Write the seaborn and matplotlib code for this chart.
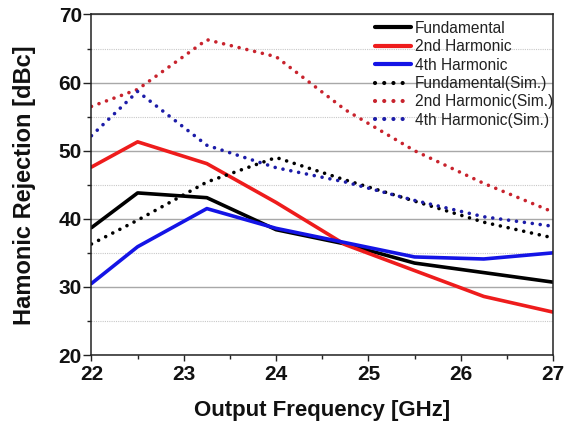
import numpy as np
import pandas as pd
import matplotlib
matplotlib.use("Agg")
import matplotlib.pyplot as plt
import seaborn as sns
from matplotlib.ticker import MultipleLocator

# Output frequency points [GHz]
freq = [22.0, 22.5, 23.25, 24.0, 24.75, 25.5, 26.25, 27.0]

# Measured harmonic rejection [dBc]
fund_meas = [38.7, 43.8, 43.1, 38.4, 36.3, 33.5, 32.1, 30.7]
h2_meas = [47.6, 51.3, 48.1, 42.4, 36.2, 32.4, 28.6, 26.3]
h4_meas = [30.5, 35.9, 41.5, 38.6, 36.5, 34.4, 34.1, 35.0]

# Simulated harmonic rejection [dBc]
fund_sim = [36.3, 39.8, 45.4, 49.0, 45.7, 42.6, 39.5, 37.2]
h2_sim = [56.5, 59.0, 66.3, 63.8, 56.0, 50.0, 45.2, 41.0]
h4_sim = [52.2, 58.7, 50.8, 47.5, 45.4, 42.7, 40.3, 38.9]

labels = ["Fundamental", "2nd Harmonic", "4th Harmonic",
          "Fundamental(Sim.)", "2nd Harmonic(Sim.)", "4th Harmonic(Sim.)"]
series = [fund_meas, h2_meas, h4_meas, fund_sim, h2_sim, h4_sim]
colors = ["#000000", "#ee1c1c", "#1414e6", "#000000", "#c8232d", "#1c1ca8"]
dotted = (0, (0.01, 2.2))
styles = ["-", "-", "-", dotted, dotted, dotted]
caps = ["butt", "butt", "butt", "round", "round", "round"]

sns.set_theme(style="white")
plt.rcParams["font.family"] = ["Liberation Sans", "DejaVu Sans"]

fig = plt.figure(figsize=(5.64, 4.30), dpi=100)
ax = fig.add_axes([0.1622, 0.1744, 0.8183, 0.7919])

for lab, vals, col, ls, cap in zip(labels, series, colors, styles, caps):
    df = pd.DataFrame({"freq": freq, "rej": vals})
    sns.lineplot(data=df, x="freq", y="rej", ax=ax, color=col, linewidth=2.6,
                 label=lab, linestyle=ls, dash_capstyle=cap)

ax.set_xlim(22, 27)
ax.set_ylim(20, 70)
ax.xaxis.set_major_locator(MultipleLocator(1))
ax.xaxis.set_minor_locator(MultipleLocator(0.5))
ax.yaxis.set_major_locator(MultipleLocator(10))
ax.yaxis.set_minor_locator(MultipleLocator(5))

ax.grid(False)
ax.yaxis.grid(True, which="major", color="#a8a8a8", linewidth=1.0, linestyle="-")
ax.yaxis.grid(True, which="minor", color="#c8c8c8", linewidth=0.8, linestyle=(0, (1, 1)))
ax.set_axisbelow(True)

for sp in ax.spines.values():
    sp.set_color("#222222")
    sp.set_linewidth(1.1)
    sp.set_visible(True)

ax.tick_params(axis="both", which="major", direction="out", width=1.0,
               color="#222222", labelsize=15, bottom=True, left=True)
ax.tick_params(axis="x", which="major", length=4, pad=3)
ax.tick_params(axis="y", which="major", length=5.5, pad=1.5)
ax.tick_params(axis="both", which="minor", direction="out", length=3, width=1.0,
               color="#222222", bottom=True, left=True)
for t in ax.get_xticklabels() + ax.get_yticklabels():
    t.set_fontweight("bold")
    t.set_color("#111111")

ax.set_xlabel("Output Frequency [GHz]", fontsize=16, fontweight="bold",
              color="#111111", labelpad=12)
ax.set_ylabel("Hamonic Rejection [dBc]", fontsize=17, fontweight="bold",
              color="#111111", labelpad=16)

leg = ax.legend(loc="upper right", frameon=False, fontsize=11.2,
                handlelength=2.3, handletextpad=0.25, labelspacing=0.22,
                borderaxespad=0.0, bbox_to_anchor=(1.013, 1.0))
for line in leg.get_lines():
    line.set_linewidth(3.0)
for t in leg.get_texts():
    t.set_color("#222222")

fig.savefig("out.png", dpi=100)
